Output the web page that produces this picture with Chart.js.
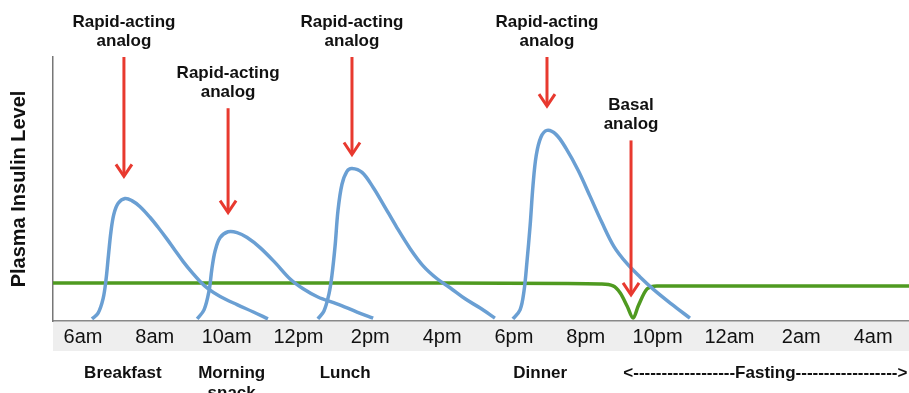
<!DOCTYPE html>
<html>
<head>
<meta charset="utf-8">
<script src="https://cdn.jsdelivr.net/npm/chart.js@4"></script>
<style>
html,body{margin:0;padding:0;background:#fff;overflow:hidden;}
#wrap{width:909px;height:393px;position:relative;}
</style>
</head>
<body>
<div id="wrap"><canvas id="c" width="909" height="393"></canvas></div>
<script>
// Time axis in hours (6 = 6am, 24 = midnight, 28 = 4am next day)
const tickValues = [6, 8, 10, 12, 14, 16, 18, 20, 22, 24, 26, 28];
const tickLabels = ['6am', '8am', '10am', '12pm', '2pm', '4pm', '6pm', '8pm', '10pm', '12am', '2am', '4am'];

// Rapid-acting analog insulin profiles (relative plasma insulin level)
const breakfastX = [6.25, 6.42, 6.56, 6.64, 6.71, 6.78, 6.86, 6.98, 7.17, 7.36, 7.59, 7.87, 8.09, 8.34, 8.56, 8.79, 9.04, 9.26, 9.48, 9.82, 10.29, 10.73, 11.15];
const breakfastY = [0.8, 3.0, 8.5, 15.5, 25.0, 34.0, 40.5, 44.6, 46.4, 45.6, 43.3, 39.2, 35.5, 31.0, 26.8, 22.5, 18.3, 15.0, 12.3, 9.3, 6.2, 3.5, 0.8];

const snackX = [9.18, 9.37, 9.51, 9.59, 9.68, 9.82, 10.04, 10.29, 10.57, 10.93, 11.35, 11.76, 12.13, 12.54, 13.07, 13.63, 14.08];
const snackY = [0.8, 4.2, 11.4, 19.8, 26.6, 31.6, 33.8, 33.5, 31.6, 27.8, 22.1, 16.0, 12.2, 9.1, 6.5, 3.4, 1.1];

const lunchX = [12.54, 12.71, 12.85, 12.93, 13.02, 13.10, 13.21, 13.35, 13.49, 13.77, 14.08, 14.35, 14.74, 15.11, 15.47, 15.86, 16.22, 16.64, 17.06, 17.47];
const lunchY = [0.8, 3.8, 10.3, 17.1, 28.5, 41.8, 51.7, 56.7, 57.8, 56.3, 50.6, 44.5, 35.4, 27.4, 20.9, 16.0, 12.6, 8.4, 4.9, 1.1];

const dinnerX = [17.97, 18.17, 18.28, 18.36, 18.45, 18.53, 18.62, 18.75, 18.92, 19.17, 19.45, 19.79, 20.12, 20.45, 20.79, 21.15, 21.51, 21.90, 22.38, 22.90];
const dinnerY = [0.8, 4.2, 11.4, 22.1, 36.1, 51.3, 62.7, 69.6, 72.2, 70.7, 65.4, 57.0, 47.2, 37.3, 28.1, 21.7, 16.7, 11.8, 6.5, 1.1];

// Basal analog profile
const basalX = [5.165, 16.0, 19.5, 20.4, 20.76, 20.96, 21.15, 21.32, 21.46, 21.71, 21.98, 25.0, 29.0];
const basalY = [14.4, 14.4, 14.2, 14.0, 13.3, 10.6, 5.7, 1.1, 5.7, 12.2, 13.3, 13.3, 13.3];

// Injection annotations
const doseTimes = [7.14, 10.04, 13.49, 18.92, 21.26];
const doseLabels = [['Rapid-acting', 'analog'], ['Rapid-acting', 'analog'], ['Rapid-acting', 'analog'], ['Rapid-acting', 'analog'], ['Basal', 'analog']];
const arrowFrom = [100, 80.6, 100, 100, 68.4];
const arrowTo = [54.4, 40.7, 62.7, 81.0, 9.5];

// Meal labels under the time axis
const mealTimes = [7.11, 10.14, 13.30, 18.73, 25.0];
const mealLabels = [['Breakfast'], ['Morning', 'snack'], ['Lunch'], ['Dinner'], ['<------------------Fasting------------------>']];

const FONT = '"Liberation Sans", Arial, Helvetica, sans-serif';
const BLUE = '#6a9fd3';
const GREEN = '#4f9a20';
const RED = '#e8392f';

function pts(xs, ys) { return xs.map((x, i) => ({ x: x, y: ys[i] })); }

const decorPlugin = {
  id: 'decor',
  beforeDraw(chart) {
    const { ctx, chartArea } = chart;
    ctx.save();
    ctx.fillStyle = '#eeeeee';
    ctx.fillRect(chartArea.left, chartArea.bottom, chart.width - chartArea.left, 30);
    ctx.restore();
  },
  afterDraw(chart) {
    const { ctx, chartArea } = chart;
    const xs = chart.scales.x, ys = chart.scales.y;
    ctx.save();
    ctx.strokeStyle = RED;
    ctx.lineWidth = 3;
    ctx.lineJoin = 'miter';
    ctx.lineCap = 'butt';
    doseTimes.forEach((t, i) => {
      const px = xs.getPixelForValue(t);
      const top = ys.getPixelForValue(arrowFrom[i]);
      const tip = ys.getPixelForValue(arrowTo[i]);
      ctx.beginPath();
      ctx.moveTo(px, top);
      ctx.lineTo(px, tip - 2);
      ctx.stroke();
      ctx.beginPath();
      ctx.moveTo(px - 8, tip - 13);
      ctx.lineTo(px, tip - 1);
      ctx.lineTo(px + 8, tip - 13);
      ctx.stroke();
      ctx.fillStyle = '#111';
      ctx.font = 'bold 17px ' + FONT;
      ctx.textAlign = 'center';
      ctx.textBaseline = 'middle';
      const lines = doseLabels[i];
      ctx.fillText(lines[0], px, top - 35);
      ctx.fillText(lines[1], px, top - 16);
    });
    ctx.fillStyle = '#111';
    ctx.font = 'bold 17px ' + FONT;
    ctx.textAlign = 'center';
    ctx.textBaseline = 'middle';
    mealTimes.forEach((t, i) => {
      const px = xs.getPixelForValue(t);
      mealLabels[i].forEach((ln, j) => {
        ctx.fillText(ln, px, chartArea.bottom + 52 + j * 20);
      });
    });
    ctx.restore();
  }
};

new Chart(document.getElementById('c'), {
  type: 'line',
  data: {
    datasets: [
      { label: 'Breakfast', data: pts(breakfastX, breakfastY), borderColor: BLUE },
      { label: 'Morning snack', data: pts(snackX, snackY), borderColor: BLUE },
      { label: 'Lunch', data: pts(lunchX, lunchY), borderColor: BLUE },
      { label: 'Dinner', data: pts(dinnerX, dinnerY), borderColor: BLUE },
      { label: 'Basal', data: pts(basalX, basalY), borderColor: GREEN, cubicInterpolationMode: 'monotone' }
    ]
  },
  options: {
    responsive: false,
    animation: false,
    devicePixelRatio: 1,
    layout: { padding: { top: 57, left: 3, right: 0, bottom: 40 } },
    elements: {
      line: { borderWidth: 3.5, tension: 0.35, fill: false, capBezierPoints: true },
      point: { radius: 0, hoverRadius: 0 }
    },
    plugins: { legend: { display: false }, tooltip: { enabled: false } },
    scales: {
      x: {
        type: 'linear',
        min: 5.165,
        max: 29,
        afterBuildTicks: (s) => { s.ticks = tickValues.map(v => ({ value: v })); },
        ticks: {
          autoSkip: false,
          maxRotation: 0,
          padding: 4,
          color: '#111',
          font: { family: FONT, size: 20 },
          callback: (v) => { const i = tickValues.indexOf(v); return i >= 0 ? tickLabels[i] : ''; }
        },
        grid: { display: false, drawTicks: false },
        border: { display: true, color: '#888', width: 1.5 }
      },
      y: {
        min: 0,
        max: 100,
        ticks: { display: false },
        grid: { display: false, drawTicks: false },
        border: { display: true, color: '#777', width: 1.5 },
        title: {
          display: true,
          text: 'Plasma Insulin Level',
          color: '#111',
          font: { family: FONT, size: 20, weight: 'bold' },
          padding: { top: 4, bottom: 22 }
        }
      }
    }
  },
  plugins: [decorPlugin]
});
</script>
</body>
</html>
